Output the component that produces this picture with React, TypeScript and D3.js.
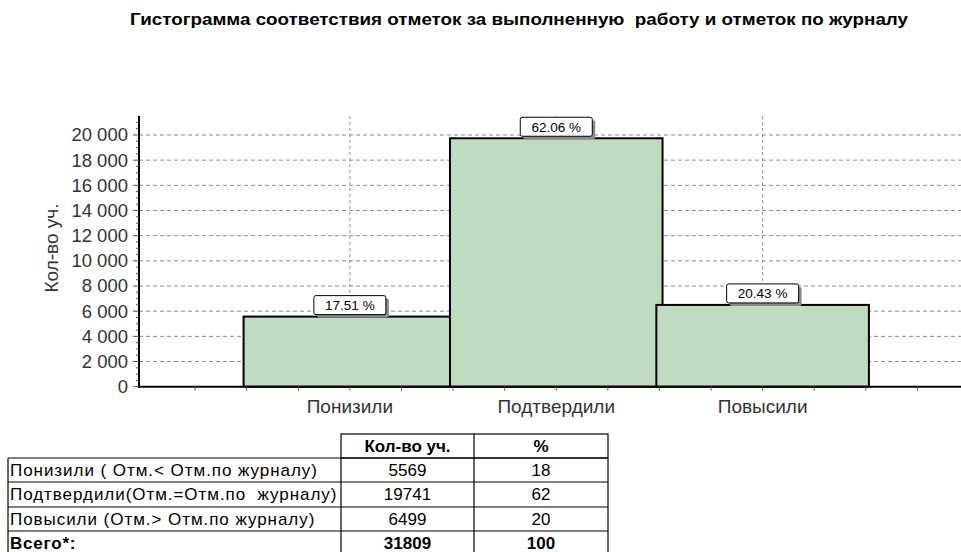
import React from "react";
import * as d3 from "d3";

const categories = ["Понизили", "Подтвердили", "Повысили"];
const counts = [5569, 19741, 6499];
const tableLabels = [
  "Понизили ( Отм.< Отм.по журналу)",
  "Подтвердили(Отм.=Отм.по  журналу)",
  "Повысили (Отм.> Отм.по журналу)",
];
const tablePercents = [18, 62, 20];
const totalLabel = "Всего*:";
const totalCount = 31809;
const totalPercent = 100;
const yTicks = [0, 2000, 4000, 6000, 8000, 10000, 12000, 14000, 16000, 18000, 20000];
const title = "Гистограмма соответствия отметок за выполненную  работу и отметок по журналу";
const yTitle = "Кол-во уч.";
const tableHeaders = ["Кол-во уч.", "%"];

const FONT = "Arial, 'Liberation Sans', sans-serif";
const W = 961;
const H = 552;

export default function App() {
  const x = d3.scaleLinear().domain([0, 4]).range([143.5, 969]);
  const y = d3.scaleLinear().domain([0, 20000]).range([386.7, 135]);
  const axisX = 139;
  const plotTop = 116;
  const plotRight = W;
  const total = d3.sum(counts);
  const fmt = (v: number) => d3.format(",")(v).replace(/,/g, " ");

  const minorY = d3.range(0, 21500, 500);
  const minorX = d3.range(0.25, 3.8, 0.25);
  const barHalf = 0.515;

  // table geometry
  const colX = [8, 341, 474, 608];
  const rowY = [434, 458, 482, 507, 531, 556];
  const pre = { whiteSpace: "pre" as const };

  return (
    <svg
      width={W}
      height={H}
      style={{ position: "absolute", left: 0, top: 0, background: "#fff" }}
      fontFamily={FONT}
    >
      <rect x={0} y={0} width={W} height={H} fill="#fff" />
      <text
        x={130}
        y={25}
        fontSize={16.5}
        fontWeight="bold"
        fill="#000"
        style={pre}
        textLength={778}
        lengthAdjust="spacingAndGlyphs"
      >
        {title}
      </text>

      {/* horizontal grid */}
      {yTicks.slice(1).map((t) => (
        <line
          key={"hg" + t}
          x1={axisX}
          x2={plotRight}
          y1={y(t)}
          y2={y(t)}
          stroke="#8c8c8c"
          strokeWidth={1}
          strokeDasharray="4,3"
        />
      ))}
      {/* vertical grid */}
      {categories.map((c, i) => (
        <line
          key={"vg" + c}
          x1={x(i + 1)}
          x2={x(i + 1)}
          y1={plotTop}
          y2={y(0)}
          stroke="#8c8c8c"
          strokeWidth={1}
          strokeDasharray="3,3"
        />
      ))}

      {/* bars */}
      {counts.map((v, i) => (
        <rect
          key={"bar" + i}
          x={x(i + 1 - barHalf)}
          y={y(v)}
          width={x(i + 1 + barHalf) - x(i + 1 - barHalf)}
          height={y(0) - y(v)}
          fill="#c0dcc0"
          stroke="#000"
          strokeWidth={2}
        />
      ))}

      {/* axes */}
      <line x1={axisX} x2={axisX} y1={plotTop} y2={y(0) + 1} stroke="#000" strokeWidth={2} />
      <line x1={axisX - 1} x2={plotRight} y1={y(0)} y2={y(0)} stroke="#000" strokeWidth={2} />
      {minorY.map((t) => (
        <line
          key={"my" + t}
          x1={t % 2000 === 0 ? axisX - 6 : axisX - 3}
          x2={axisX}
          y1={y(t)}
          y2={y(t)}
          stroke="#555"
          strokeWidth={1}
        />
      ))}
      {yTicks.map((t) => (
        <text
          key={"yl" + t}
          x={axisX - 11}
          y={y(t)}
          dy="0.35em"
          textAnchor="end"
          fontSize={18.5}
          fill="#333"
        >
          {fmt(t)}
        </text>
      ))}
      {minorX.map((t) => (
        <line
          key={"mx" + t}
          x1={x(t)}
          x2={x(t)}
          y1={y(0)}
          y2={y(0) + 4}
          stroke="#555"
          strokeWidth={1}
        />
      ))}
      {categories.map((c, i) => (
        <text key={"xl" + c} x={x(i + 1)} y={413} textAnchor="middle" fontSize={19} fill="#333">
          {c}
        </text>
      ))}
      <text
        transform={`translate(58,248) rotate(-90)`}
        textAnchor="middle"
        fontSize={19}
        fill="#333"
      >
        {yTitle}
      </text>

      {/* value labels */}
      {counts.map((v, i) => {
        const cx = x(i + 1);
        const bw = 72;
        const bh = 19;
        const top = y(v) - 2 - bh;
        return (
          <g key={"lab" + i}>
            <rect x={cx - bw / 2 + 3} y={top + 3} width={bw} height={bh} fill="#8a8a8a" rx={2} />
            <rect
              x={cx - bw / 2}
              y={top}
              width={bw}
              height={bh}
              fill="#fff"
              stroke="#000"
              strokeWidth={1}
              rx={2}
            />
            <text x={cx} y={top + bh / 2} dy="0.36em" textAnchor="middle" fontSize={13.5} fill="#000">
              {((v / total) * 100).toFixed(2) + " %"}
            </text>
          </g>
        );
      })}

      {/* table */}
      <g fontSize={17} fill="#000">
        {/* header */}
        <rect x={colX[1]} y={rowY[0]} width={colX[3] - colX[1]} height={rowY[1] - rowY[0]} fill="none" stroke="#000" strokeWidth={1.2} />
        <line x1={colX[2]} x2={colX[2]} y1={rowY[0]} y2={H} stroke="#000" strokeWidth={1.2} />
        <text x={(colX[1] + colX[2]) / 2} y={rowY[0] + 18} textAnchor="middle" fontWeight="bold">
          {tableHeaders[0]}
        </text>
        <text x={(colX[2] + colX[3]) / 2} y={rowY[0] + 18} textAnchor="middle" fontWeight="bold">
          {tableHeaders[1]}
        </text>
        {/* body lines */}
        {rowY.slice(1, 5).map((ry, i) => (
          <line key={"rl" + i} x1={colX[0]} x2={colX[3]} y1={ry} y2={ry} stroke="#000" strokeWidth={1.2} />
        ))}
        {[colX[0], colX[1], colX[3]].map((cx, i) => (
          <line key={"cl" + i} x1={cx} x2={cx} y1={rowY[1]} y2={H} stroke="#000" strokeWidth={1.2} />
        ))}
        {tableLabels.map((l, i) => (
          <g key={"row" + i}>
            <text x={colX[0] + 2} y={rowY[i + 1] + 18} style={pre} letterSpacing={0.95}>
              {l}
            </text>
            <text x={(colX[1] + colX[2]) / 2} y={rowY[i + 1] + 18} textAnchor="middle">
              {counts[i]}
            </text>
            <text x={(colX[2] + colX[3]) / 2} y={rowY[i + 1] + 18} textAnchor="middle">
              {tablePercents[i]}
            </text>
          </g>
        ))}
        <text x={colX[0] + 2} y={rowY[4] + 18} fontWeight="bold" letterSpacing={0.8}>{totalLabel}</text>
        <text x={(colX[1] + colX[2]) / 2} y={rowY[4] + 18} textAnchor="middle" fontWeight="bold">
          {totalCount}
        </text>
        <text x={(colX[2] + colX[3]) / 2} y={rowY[4] + 18} textAnchor="middle" fontWeight="bold">
          {totalPercent}
        </text>
      </g>
    </svg>
  );
}
